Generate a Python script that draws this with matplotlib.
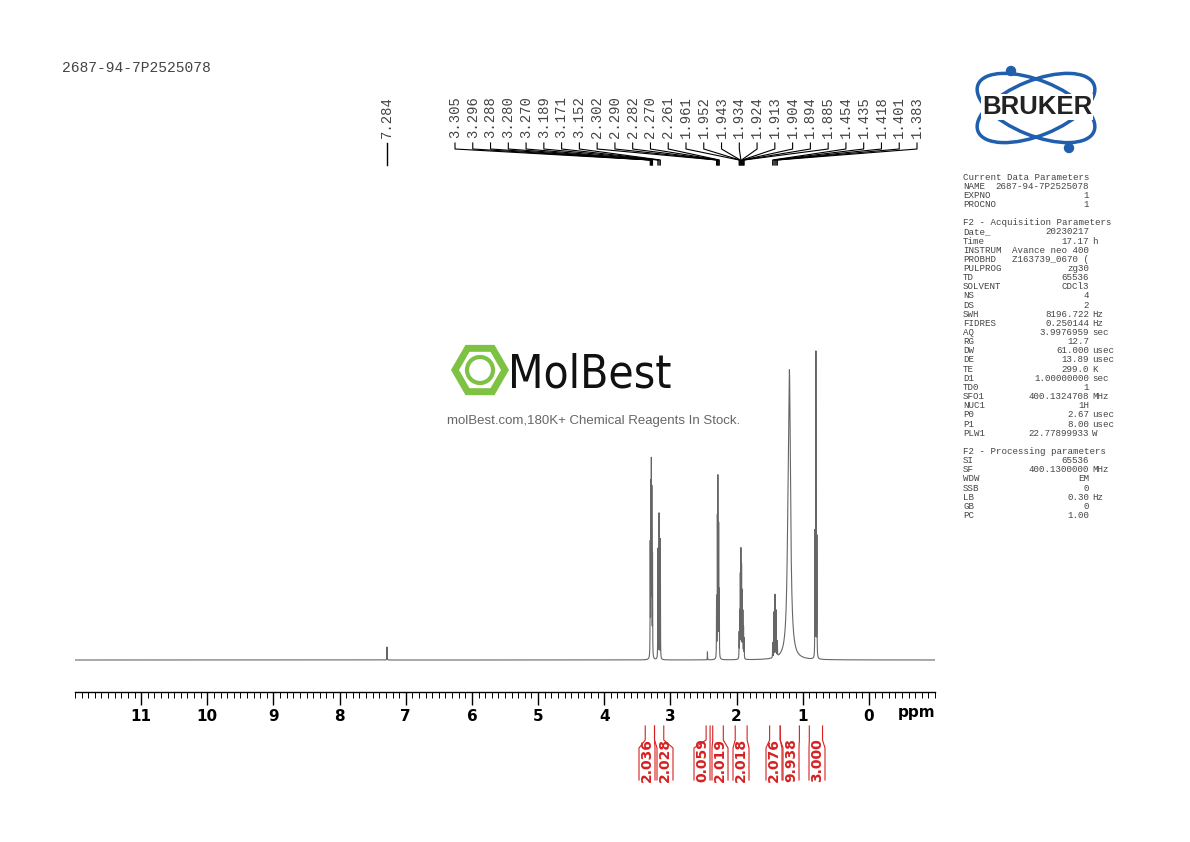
import numpy as np
import matplotlib
matplotlib.use("Agg")
import matplotlib.pyplot as plt
from matplotlib.patches import Ellipse, RegularPolygon, Circle

# ---- data ----
peak_ppm = [7.284,
            3.305, 3.296, 3.288, 3.280, 3.270,
            3.189, 3.171, 3.152,
            2.302, 2.290, 2.282, 2.270, 2.261,
            1.961, 1.952, 1.943, 1.934, 1.924, 1.913, 1.904, 1.894, 1.885,
            1.454, 1.435, 1.418, 1.401, 1.383,
            0.815, 0.800, 0.785, 2.44]
peak_h = [13,
          110, 165, 185, 160, 100,
          110, 145, 120,
          60, 135, 175, 130, 65,
          25, 45, 80, 105, 90, 65, 45, 30, 20,
          15, 45, 62, 46, 15,
          125, 305, 120, 8]
broad_ppm = [1.20, 1.22]
broad_h = [262, 55]
label_ppm = peak_ppm[1:28]
integ_vals = ["2.036", "2.028", "0.059", "2.019", "2.018", "2.076", "9.938", "3.000"]
integ_regions = [(3.38, 3.24), (3.24, 3.10), (2.46, 2.40), (2.36, 2.20),
                 (2.02, 1.84), (1.50, 1.34), (1.34, 1.05), (0.90, 0.70)]
integ_label_px = [647, 665, 702, 720, 741, 774, 791, 817]

params = [
    ("Current Data Parameters", None, None),
    ("NAME", "2687-94-7P2525078", ""),
    ("EXPNO", "1", ""),
    ("PROCNO", "1", ""),
    ("", None, None),
    ("F2 - Acquisition Parameters", None, None),
    ("Date_", "20230217", ""),
    ("Time", "17.17", "h"),
    ("INSTRUM", "Avance neo 400", ""),
    ("PROBHD", "Z163739_0670 (", ""),
    ("PULPROG", "zg30", ""),
    ("TD", "65536", ""),
    ("SOLVENT", "CDCl3", ""),
    ("NS", "4", ""),
    ("DS", "2", ""),
    ("SWH", "8196.722", "Hz"),
    ("FIDRES", "0.250144", "Hz"),
    ("AQ", "3.9976959", "sec"),
    ("RG", "12.7", ""),
    ("DW", "61.000", "usec"),
    ("DE", "13.89", "usec"),
    ("TE", "299.0", "K"),
    ("D1", "1.00000000", "sec"),
    ("TD0", "1", ""),
    ("SFO1", "400.1324708", "MHz"),
    ("NUC1", "1H", ""),
    ("P0", "2.67", "usec"),
    ("P1", "8.00", "usec"),
    ("PLW1", "22.77899933", "W"),
    ("", None, None),
    ("F2 - Processing parameters", None, None),
    ("SI", "65536", ""),
    ("SF", "400.1300000", "MHz"),
    ("WDW", "EM", ""),
    ("SSB", "0", ""),
    ("LB", "0.30", "Hz"),
    ("GB", "0", ""),
    ("PC", "1.00", ""),
]

MONO = ["Liberation Mono", "DejaVu Sans Mono"]

# ---- figure ----
W, H = 1190, 842
fig = plt.figure(figsize=(W / 100, H / 100), dpi=100)

def fx(px): return px / W
def fy(py): return 1 - py / H

ax = fig.add_axes([fx(75), fy(692), fx(935) - fx(75), fy(160) - fy(692)])
x = np.linspace(12.0, -1.0, 80000)
y = np.zeros_like(x)
g = 0.0018
for p, h in zip(peak_ppm, peak_h):
    y += h * g**2 / ((x - p)**2 + g**2)
for p, h in zip(broad_ppm, broad_h):
    gb = 0.02
    y += h * gb**2 / ((x - p)**2 + gb**2)
ax.plot(x, y, color="#666666", lw=0.8)
ax.set_xlim(12.0, -1.0)
ax.set_ylim(-32, 500)
for s in ["top", "left", "right"]:
    ax.spines[s].set_visible(False)
ax.spines["bottom"].set_linewidth(1.0)
ax.set_yticks([])
ax.set_xticks(np.arange(0, 12, 1))
ax.set_xticks(np.arange(-1.0, 12.01, 0.1), minor=True)
ax.tick_params(axis="x", which="major", direction="out", length=9, width=1, labelsize=11, pad=3)
ax.tick_params(axis="x", which="minor", direction="out", length=4, width=0.7)
for t in ax.get_xticklabels():
    t.set_fontweight("bold")
fig.text(fx(917), fy(712), "ppm", fontsize=11, fontweight="bold", ha="center", va="center")

# overlay in pixel coordinates
ov = fig.add_axes([0, 0, 1, 1])
ov.set_xlim(0, W)
ov.set_ylim(H, 0)
ov.axis("off")

def ppm2px(p):
    return ax.transData.transform((p, 0))[0]

# peak labels
ov.plot([ppm2px(7.284)] * 2, [143, 165], color="k", lw=1)
ov.text(ppm2px(7.284), 138, "7.284", rotation=90, ha="center", va="bottom",
        family=MONO, fontsize=10, color="#444444")
n = len(label_ppm)
lx = np.linspace(455, 917, n)
for xi, p in zip(lx, label_ppm):
    px = ppm2px(p)
    ov.plot([xi, xi, px, px], [143, 149, 160, 165], color="k", lw=0.8)
    ov.text(xi, 138, f"{p:.3f}", rotation=90, ha="center", va="bottom",
            family=MONO, fontsize=10, color="#444444")

# integrals
red = "#d62020"
for val, (a, b), lxp in zip(integ_vals, integ_regions, integ_label_px):
    xa, xb = ppm2px(a), ppm2px(b)
    for xe, xl in ((xa, lxp - 8), (xb, lxp + 8)):
        ov.plot([xe, xe, xl, xl], [726, 740, 748, 780], color=red, lw=0.8)
    ov.text(lxp, 760, val, rotation=90, ha="center", va="center", color=red,
            fontsize=10, fontweight="bold")

# title
fig.text(fx(62), fy(68), "2687-94-7P2525078", family=MONO,
         fontsize=10.5, color="#444444", va="center")

# parameters
y0 = 177
for i, (k, v, u) in enumerate(params):
    yy = y0 + i * 9.15
    ov.text(963, yy, k, family=MONO, fontsize=6.6, color="#444444", va="center")
    if v is not None:
        ov.text(1089, yy, v, family=MONO, fontsize=6.6, color="#444444",
                va="center", ha="right")
        if u:
            ov.text(1092, yy, u, family=MONO, fontsize=6.6, color="#444444", va="center")

# MolBest logo
green = "#7dc242"
ov.add_patch(RegularPolygon((480, 370), 6, radius=25, orientation=np.pi / 6,
                            facecolor="none", edgecolor=green, lw=5))
ov.add_patch(Circle((480, 370), 13, facecolor="none", edgecolor=green, lw=3))
ov.text(508, 375, "MolBest", fontsize=33, color="#111111", va="center", ha="left",
        family="DejaVu Sans", fontstretch="condensed")
ov.text(594, 421, "molBest.com,180K+ Chemical Reagents In Stock.", fontsize=9.5,
        color="#666666", ha="center", va="center", family="Liberation Sans")

# Bruker logo
blue = "#1f5fae"
for ang in (22, -22):
    ov.add_patch(Ellipse((1036, 108), 125, 55, angle=ang, facecolor="none",
                         edgecolor=blue, lw=2.5))
ov.add_patch(Circle((1011, 71), 4.5, color=blue))
ov.add_patch(Circle((1069, 148), 4.5, color=blue))
ov.text(1037, 107, "BRUKER", fontsize=18.5, fontweight="bold", color="#222222",
        ha="center", va="center", family="Liberation Sans",
        bbox=dict(facecolor="white", edgecolor="none", pad=0.3))

fig.savefig("out.png", dpi=100)
